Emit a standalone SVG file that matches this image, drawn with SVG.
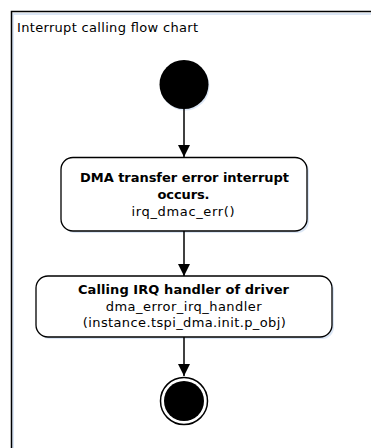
<svg xmlns="http://www.w3.org/2000/svg" width="371" height="448" viewBox="0 0 371 448">
<defs>
<style>
.frame{fill:none;stroke:#000;stroke-width:1.5}
.shadow{fill:none;stroke:#dbe6f5;stroke-width:2}
.box{fill:#fff;stroke:#000;stroke-width:1.3}
.boxsh{fill:#dbe6f5;stroke:none}
.t{font-family:"DejaVu Sans",Verdana,sans-serif;font-size:13px;fill:#000;text-anchor:middle}
.b{font-weight:bold}
.title{font-family:"DejaVu Sans",Verdana,sans-serif;font-size:13px;fill:#000}
.edge{stroke:#000;stroke-width:1.5;fill:none}
</style>
<marker id="arr" viewBox="0 0 12 12" refX="12" refY="6" markerWidth="12" markerHeight="12" markerUnits="userSpaceOnUse" orient="auto">
<path d="M0,0 L12,6 L0,12 Z" fill="#000"/>
</marker>
</defs>
<rect width="371" height="448" fill="#fff"/>
<g id="frame">
<path class="shadow" d="M13,448 V14 H371"/>
<path class="frame" d="M11.5,448 V11.5 H371"/>
<text class="title" x="17" y="32" textLength="181">Interrupt calling flow chart</text>
</g>
<g id="start">
<circle cx="185" cy="86" r="24.5" fill="#dbe6f5"/>
<circle cx="184" cy="84.5" r="24.5" fill="#000"/>
</g>
<g id="node1">
<rect class="boxsh" x="63" y="159.5" width="246" height="73.5" rx="12"/>
<rect class="box" x="61" y="157.5" width="246" height="73.5" rx="12"/>
<text class="t b" x="184.5" y="182" textLength="209">DMA transfer error interrupt</text>
<text class="t b" x="183.5" y="199" textLength="52">occurs.</text>
<text class="t" x="183" y="216" textLength="103">irq_dmac_err()</text>
</g>
<g id="node2">
<rect class="boxsh" x="38" y="278" width="296" height="61" rx="12"/>
<rect class="box" x="36" y="276" width="296" height="61" rx="12"/>
<text class="t b" x="183.5" y="294" textLength="211">Calling IRQ handler of driver</text>
<text class="t" x="183.7" y="310.5" textLength="156">dma_error_irq_handler</text>
<text class="t" x="184.3" y="327" textLength="203">(instance.tspi_dma.init.p_obj)</text>
</g>
<g id="end">
<circle cx="184" cy="401" r="23.5" fill="#fff" stroke="#000" stroke-width="1.5"/>
<circle cx="184" cy="401" r="20" fill="#000"/>
</g>
<g id="connectors">
<line class="edge" x1="184" y1="109" x2="184" y2="157" marker-end="url(#arr)"/>
<line class="edge" x1="184" y1="231" x2="184" y2="276" marker-end="url(#arr)"/>
<line class="edge" x1="184" y1="337" x2="184" y2="376" marker-end="url(#arr)"/>
</g>
</svg>
